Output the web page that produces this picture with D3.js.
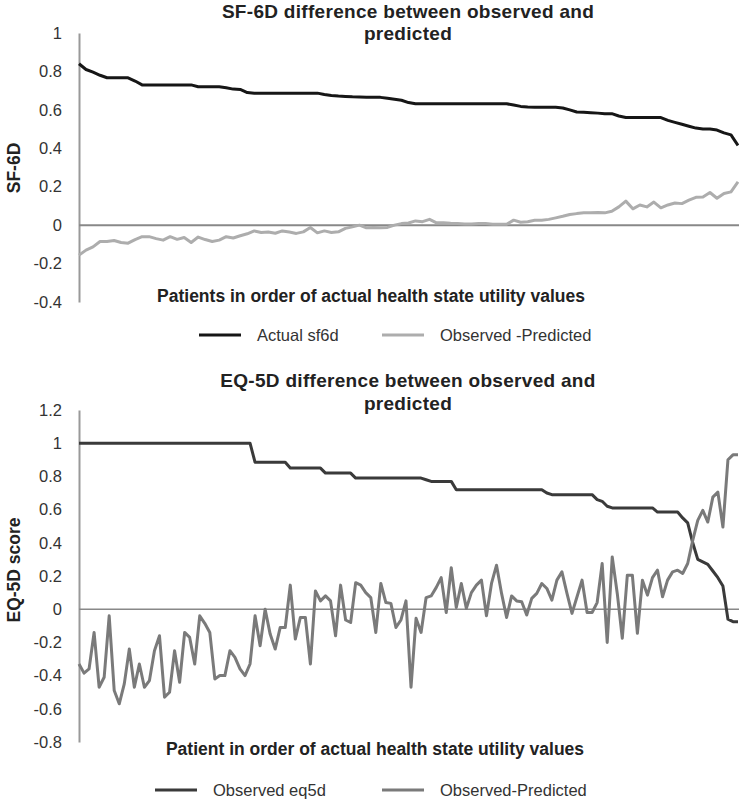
<!DOCTYPE html>
<html>
<head>
<meta charset="utf-8">
<script src="https://cdn.jsdelivr.net/npm/d3@7"></script>
<style>
  body { margin: 0; background: #fff; }
  text { font-family: "Liberation Sans", Arial, sans-serif; }
</style>
</head>
<body>
<script>
// SF-6D panel: patients sorted by actual utility
const sfActual = [
  0.84, 0.81, 0.796, 0.78, 0.767, 0.767, 0.767, 0.767, 0.75, 0.73,
  0.73, 0.73, 0.73, 0.73, 0.73, 0.73, 0.73, 0.72, 0.72, 0.72,
  0.72, 0.715, 0.708, 0.706, 0.69, 0.687, 0.687, 0.687, 0.687, 0.687,
  0.687, 0.687, 0.687, 0.687, 0.687, 0.68, 0.675, 0.672, 0.67, 0.668,
  0.667, 0.666, 0.666, 0.665, 0.66, 0.655, 0.65, 0.638, 0.632, 0.632,
  0.632, 0.632, 0.632, 0.632, 0.632, 0.632, 0.632, 0.632, 0.632, 0.632,
  0.632, 0.632, 0.625, 0.618, 0.615, 0.613, 0.613, 0.613, 0.613, 0.61,
  0.6, 0.589, 0.587, 0.585, 0.583, 0.58, 0.58, 0.568, 0.56, 0.56,
  0.56, 0.56, 0.56, 0.56, 0.545, 0.535, 0.525, 0.515, 0.505, 0.5,
  0.5, 0.495, 0.48, 0.47, 0.415
];
const sfDiff = [
  -0.156, -0.13, -0.113, -0.085, -0.085, -0.08, -0.09, -0.094, -0.075, -0.06,
  -0.06, -0.07, -0.078, -0.06, -0.074, -0.064, -0.09, -0.062, -0.075, -0.085,
  -0.078, -0.06, -0.067, -0.055, -0.045, -0.03, -0.038, -0.036, -0.042, -0.03,
  -0.036, -0.043, -0.035, -0.012, -0.04, -0.03, -0.038, -0.035, -0.017, -0.009,
  0, -0.014, -0.012, -0.013, -0.012, 0, 0.008, 0.011, 0.022, 0.018,
  0.03, 0.012, 0.012, 0.01, 0.009, 0.006, 0.006, 0.009, 0.008, 0.005,
  0.005, 0.005, 0.026, 0.015, 0.018, 0.025, 0.026, 0.03, 0.038, 0.046,
  0.055, 0.06, 0.064, 0.065, 0.066, 0.064, 0.072, 0.095, 0.125, 0.085,
  0.105, 0.095, 0.12, 0.09, 0.105, 0.115, 0.112, 0.13, 0.145, 0.147,
  0.17, 0.14, 0.165, 0.173, 0.225
];
const sfTicks = [1, 0.8, 0.6, 0.4, 0.2, 0, -0.2, -0.4];

// EQ-5D panel
const eqObserved = [
  1, 1, 1, 1, 1, 1, 1, 1, 1, 1,
  1, 1, 1, 1, 1, 1, 1, 1, 1, 1,
  1, 1, 1, 1, 1, 1, 1, 1, 1, 1,
  1, 1, 1, 1, 1, 0.885, 0.885, 0.885, 0.885, 0.885,
  0.885, 0.885, 0.85, 0.85, 0.85, 0.85, 0.85, 0.85, 0.85, 0.82,
  0.82, 0.82, 0.82, 0.82, 0.82, 0.79, 0.79, 0.79, 0.79, 0.79,
  0.79, 0.79, 0.79, 0.79, 0.79, 0.79, 0.79, 0.79, 0.79, 0.78,
  0.77, 0.77, 0.77, 0.77, 0.77, 0.72, 0.72, 0.72, 0.72, 0.72,
  0.72, 0.72, 0.72, 0.72, 0.72, 0.72, 0.72, 0.72, 0.72, 0.72,
  0.72, 0.72, 0.72, 0.70, 0.69, 0.69, 0.69, 0.69, 0.69, 0.69,
  0.69, 0.69, 0.69, 0.66, 0.65, 0.62, 0.61, 0.61, 0.61, 0.61,
  0.61, 0.61, 0.61, 0.61, 0.61, 0.585, 0.585, 0.585, 0.585, 0.585,
  0.55, 0.52, 0.40, 0.30, 0.285, 0.27, 0.23, 0.19, 0.14, -0.06,
  -0.075, -0.075
];
const eqDiff = [
  -0.33, -0.385, -0.36, -0.14, -0.47, -0.41, -0.04, -0.49, -0.57, -0.45,
  -0.24, -0.47, -0.33, -0.47, -0.43, -0.25, -0.16, -0.53, -0.50, -0.25,
  -0.44, -0.14, -0.17, -0.33, -0.04, -0.085, -0.14, -0.42, -0.40, -0.40,
  -0.25, -0.29, -0.36, -0.40, -0.33, -0.04, -0.22, 0.0, -0.15, -0.24,
  -0.11, -0.11, 0.145,
  -0.18, -0.05, -0.05, -0.33, 0.11, 0.05, 0.08, 0.05, -0.16, 0.145,
  -0.065, -0.08, 0.16, 0.145, 0.10, 0.07, -0.14, 0.155, 0.04, 0.035,
  -0.11, -0.065, 0.05, -0.47, -0.055, -0.14, 0.07, 0.08, 0.13, 0.19,
  -0.02, 0.25, 0.01, 0.155, 0.005, 0.10, 0.145, 0.175, -0.04, 0.155,
  0.265, 0.095, -0.05, 0.08,
  0.05, 0.045, -0.035, 0.065, 0.095, 0.155, 0.125, 0.055, 0.175, 0.225,
  0.095, -0.025, 0.075, 0.175, -0.02, -0.02, 0.04, 0.275, -0.20, 0.315,
  0.095, -0.175, 0.205, 0.205, -0.145, 0.175, 0.085, 0.19, 0.235, 0.075,
  0.175, 0.225, 0.235, 0.215, 0.275, 0.415, 0.535, 0.595, 0.525, 0.675,
  0.705, 0.495, 0.90, 0.93, 0.93
];
const eqTicks = [1.2, 1, 0.8, 0.6, 0.4, 0.2, 0, -0.2, -0.4, -0.6, -0.8];

const w = 739;
const h = 804;
const left = 79;
const right = 738;

const svg = d3.select('body')
  .append('svg')
  .attr('width', w)
  .attr('height', h);

const fmt = (d) => String(+d.toFixed(1));

const drawPanel = (p) => {
  const xScale = d3.scaleLinear()
    .domain([0, p.series[0].values.length - 1])
    .range([left, right]);
  const yScale = d3.scaleLinear()
    .domain(p.domain)
    .range([p.bottom, p.top]);

  const g = svg.append('g');

  //title, two lines
  p.title.forEach((t, i) => {
    g.append('text')
      .attr('x', 408)
      .attr('y', p.titleY[i])
      .attr('text-anchor', 'middle')
      .style('font-size', '19px')
      .style('letter-spacing', '0.3px')
      .style('font-weight', 'bold')
      .attr('fill', '#222')
      .text(t);
  });

  //y axis, no tick marks
  const yAxis = d3.axisLeft(yScale)
    .tickValues(p.ticks)
    .tickFormat(fmt)
    .tickSize(0)
    .tickPadding(17);
  const ag = g.append('g')
    .attr('transform', `translate(${left}, 0)`)
    .call(yAxis);
  ag.select('.domain')
    .attr('stroke', '#999')
    .attr('stroke-width', 2);
  ag.selectAll('text')
    .style('font-size', '16.5px')
    .style('font-family', '"Liberation Sans", Arial, sans-serif')
    .attr('fill', '#333');

  //zero line
  g.append('line')
    .attr('x1', left)
    .attr('x2', w)
    .attr('y1', yScale(0))
    .attr('y2', yScale(0))
    .attr('stroke', '#888')
    .attr('stroke-width', p.zeroWidth);

  const line = d3.line()
    .x((d, i) => xScale(i))
    .y((d) => yScale(d));

  p.series.forEach((s) => {
    g.append('path')
      .datum(s.values)
      .attr('d', line)
      .attr('fill', 'none')
      .attr('stroke', s.color)
      .attr('stroke-width', 3)
      .attr('stroke-linejoin', 'round');
  });

  //rotated y label
  g.append('text')
    .attr('transform', `translate(20, ${p.yLabelY}) rotate(-90)`)
    .attr('text-anchor', 'middle')
    .style('font-size', '17.5px')
    .style('font-weight', 'bold')
    .attr('fill', '#222')
    .text(p.yLabel);

  //x title
  g.append('text')
    .attr('x', p.xTitleX)
    .attr('y', p.xTitleY)
    .attr('text-anchor', 'middle')
    .style('font-size', '17.5px')
    .style('font-weight', 'bold')
    .attr('fill', '#222')
    .text(p.xTitle);

  //legend
  p.series.forEach((s, i) => {
    const lx = p.legendX[i];
    g.append('line')
      .attr('x1', lx)
      .attr('x2', lx + 42)
      .attr('y1', p.legendY)
      .attr('y2', p.legendY)
      .attr('stroke', s.color)
      .attr('stroke-width', 3);
    g.append('text')
      .attr('x', lx + 58)
      .attr('y', p.legendY + 6)
      .style('font-size', '16.5px')
      .attr('fill', '#333')
      .text(s.name);
  });
};

drawPanel({
  title: ['SF-6D difference between observed and', 'predicted'],
  titleY: [18, 40],
  domain: [-0.4, 1],
  top: 33,
  bottom: 302,
  ticks: sfTicks,
  zeroWidth: 2,
  yLabel: 'SF-6D',
  yLabelY: 168,
  xTitle: 'Patients in order of actual health state utility values',
  xTitleX: 371,
  xTitleY: 302,
  legendY: 335,
  legendX: [199, 382],
  series: [
    { name: 'Actual sf6d', values: sfActual, color: '#161616' },
    { name: 'Observed -Predicted', values: sfDiff, color: '#adadad' }
  ]
});

drawPanel({
  title: ['EQ-5D difference between observed and', 'predicted'],
  titleY: [387, 410],
  domain: [-0.8, 1.2],
  top: 410,
  bottom: 742,
  ticks: eqTicks,
  zeroWidth: 1.5,
  yLabel: 'EQ-5D score',
  yLabelY: 570,
  xTitle: 'Patient in order of actual health state utility values',
  xTitleX: 375,
  xTitleY: 755,
  legendY: 790,
  legendX: [155, 382],
  series: [
    { name: 'Observed eq5d', values: eqObserved, color: '#3a3a3a' },
    { name: 'Observed-Predicted', values: eqDiff, color: '#7a7a7a' }
  ]
});
</script>
</body>
</html>
